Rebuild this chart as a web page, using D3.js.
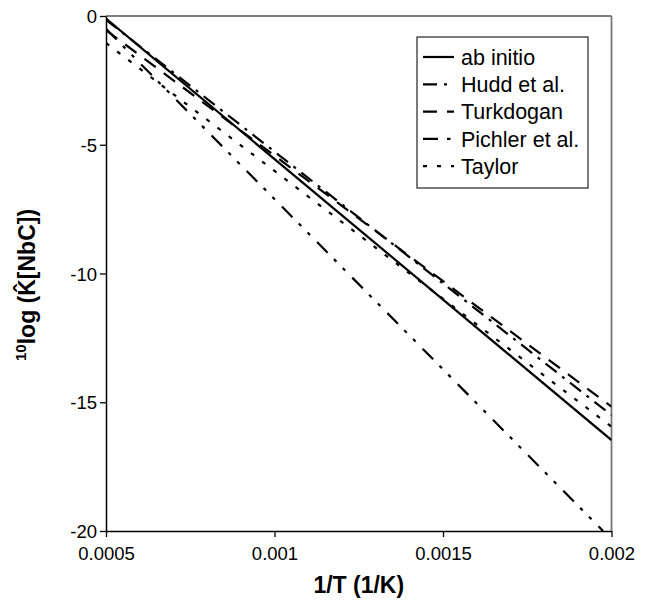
<!DOCTYPE html>
<html>
<head>
<meta charset="utf-8">
<script src="https://cdn.jsdelivr.net/npm/d3@7"></script>
<style>
  body { margin: 0; background: #fff; }
  svg { display: block; }
  svg text { font-family: "Liberation Sans", Arial, sans-serif; fill: #000; }
</style>
</head>
<body>
<svg id="chart" width="650" height="600"></svg>
<script>
// ---- data ----
const seriesNames = ["ab initio", "Hudd et al.", "Turkdogan", "Pichler et al.", "Taylor"];
const abInitioX = [0.0005, 0.002];
const abInitioY = [-0.1, -16.47];
const huddX = [0.0005, 0.002];
const huddY = [-0.15, -15.5];
const turkdoganX = [0.0005, 0.002];
const turkdoganY = [-0.55, -15.17];
const pichlerX = [0.0005, 0.001975];
const pichlerY = [-0.5, -20];
const taylorX = [0.0005, 0.002];
const taylorY = [-1.05, -15.95];
const xTicks = [0.0005, 0.001, 0.0015, 0.002];
const xTickLabels = ["0.0005", "0.001", "0.0015", "0.002"];
const yTicks = [0, -5, -10, -15, -20];
const yTickLabels = ["0", "-5", "-10", "-15", "-20"];

const dashes = [null, "14,7,3,7", "14,10", "15,9,3.5,9,3.5,10", "4,10"];
const series = seriesNames.map((name, i) => ({
  name,
  xs: [abInitioX, huddX, turkdoganX, pichlerX, taylorX][i],
  ys: [abInitioY, huddY, turkdoganY, pichlerY, taylorY][i],
  dash: dashes[i]
}));

// ---- layout ----
const svg = d3.select("#chart");
const L = 106, R = 611.5, T = 16, B = 531;
const x = d3.scaleLinear().domain([0.0005, 0.002]).range([L, R]);
const y = d3.scaleLinear().domain([-20, 0]).range([B, T]);

svg.append("defs").append("clipPath").attr("id", "plotclip")
  .append("rect").attr("x", L).attr("y", T).attr("width", R - L).attr("height", B - T);

// frame (top/right)
svg.append("line").attr("x1", L).attr("x2", R).attr("y1", T).attr("y2", T)
  .attr("stroke", "#555").attr("stroke-width", 1.5);
svg.append("line").attr("x1", R).attr("x2", R).attr("y1", T).attr("y2", B)
  .attr("stroke", "#777").attr("stroke-width", 1.8);

// axes
const xAxis = d3.axisBottom(x).tickValues(xTicks)
  .tickFormat((d, i) => xTickLabels[i]).tickSize(6).tickSizeOuter(0);
const yAxis = d3.axisLeft(y).tickValues(yTicks)
  .tickFormat((d, i) => yTickLabels[i]).tickSize(6).tickSizeOuter(0);

const gx = svg.append("g").attr("transform", `translate(0,${B})`).call(xAxis);
const gy = svg.append("g").attr("transform", `translate(${L},0)`).call(yAxis);
[gx, gy].forEach(g => {
  g.attr("font-family", null);
  g.select(".domain").attr("stroke", "#000").attr("stroke-width", 1.5);
  g.selectAll(".tick line").attr("stroke", "#000").attr("stroke-width", 1.3);
  g.selectAll(".tick text").attr("font-size", 18.5);
});
gx.selectAll(".tick text").attr("y", 29).attr("dy", 0);
gy.selectAll(".tick text").attr("dy", "0.36em").attr("x", -9);

// lines
const lineGen = d3.line().x(d => x(d[0])).y(d => y(d[1]));
const plot = svg.append("g").attr("clip-path", "url(#plotclip)");
series.forEach(s => {
  const pts = s.xs.map((v, i) => [v, s.ys[i]]);
  plot.append("path").datum(pts)
    .attr("d", lineGen)
    .attr("fill", "none")
    .attr("stroke", "#000")
    .attr("stroke-width", 2.2)
    .attr("stroke-dasharray", s.dash);
});

// legend
const lg = svg.append("g");
lg.append("rect").attr("x", 417).attr("y", 37).attr("width", 171).attr("height", 151)
  .attr("fill", "#fff").attr("stroke", "#222").attr("stroke-width", 1.2);
series.forEach((s, i) => {
  const yy = 57 + i * 27.3;
  lg.append("line").attr("x1", 423).attr("x2", 454).attr("y1", yy).attr("y2", yy)
    .attr("stroke", "#000").attr("stroke-width", 2.2)
    .attr("stroke-dasharray", s.dash);
  lg.append("text").attr("x", 461).attr("y", yy).attr("dy", "0.36em")
    .attr("font-size", 21.5).text(s.name);
});

// axis titles
svg.append("text").attr("x", (L + R) / 2).attr("y", 593)
  .attr("text-anchor", "middle").attr("font-size", 23).attr("font-weight", "bold")
  .text("1/T (1/K)");

const yt = svg.append("text")
  .attr("transform", `translate(35,361) rotate(-90)`)
  .attr("text-anchor", "start").attr("font-size", 23).attr("font-weight", "bold");
yt.append("tspan").attr("font-size", 15).attr("dy", -9).text("10");
yt.append("tspan").attr("dy", 9).text("log (K\u0302[NbC])");
</script>
</body>
</html>
